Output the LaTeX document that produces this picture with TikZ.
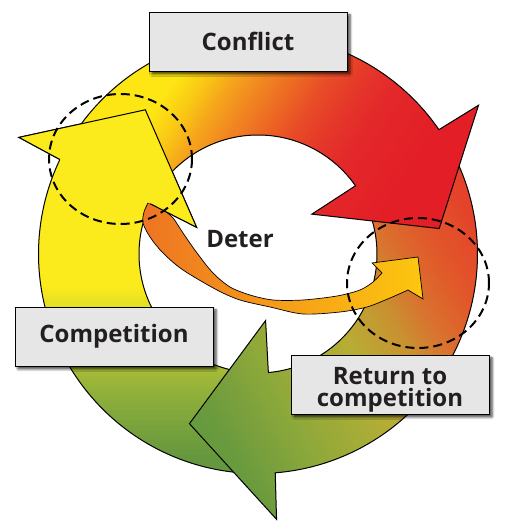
\documentclass[tikz,border=0pt]{standalone}
\usepackage{fontspec}
\setsansfont{Open Sans}
\usetikzlibrary{shadows.blur}

\definecolor{boxgray}{HTML}{E6E6E6}
\definecolor{textdark}{HTML}{231F20}
\definecolor{cycyellow}{HTML}{FBEA1C}
\definecolor{yellowA}{HTML}{65973F}
\definecolor{yellowB}{HTML}{8CAE3B}
\definecolor{yellowC}{HTML}{A8BC36}
\definecolor{yellowD}{HTML}{ECE421}
\definecolor{redA}{HTML}{FDE614}
\definecolor{redB}{HTML}{F9C315}
\definecolor{redC}{HTML}{F5A41C}
\definecolor{redD}{HTML}{F18621}
\definecolor{redE}{HTML}{EC6624}
\definecolor{redF}{HTML}{E84B27}
\definecolor{redG}{HTML}{E5362A}
\definecolor{redH}{HTML}{E3282A}
\definecolor{redI}{HTML}{E31E26}
\definecolor{greenA}{HTML}{E4432A}
\definecolor{greenB}{HTML}{E15A2A}
\definecolor{greenC}{HTML}{D8752F}
\definecolor{greenD}{HTML}{C99231}
\definecolor{greenE}{HTML}{B6AE34}
\definecolor{greenF}{HTML}{8FA93A}
\definecolor{greenG}{HTML}{699A3E}
\definecolor{greenH}{HTML}{5F9540}
\definecolor{deterA}{HTML}{EE7423}
\definecolor{deterB}{HTML}{F9B316}
\definecolor{deterC}{HTML}{FDC70F}

\newcommand\cyclehead[1]{(#1:219.5) -- (#1-0.5:266) -- (#1-26.5:183) -- (#1+2:67) -- (#1+0.5:119)}
\newcommand\cyclearrow[1]{(#1+115:219.5) arc[start angle=#1+115, end angle=#1, radius=219.5] -- \cyclehead{#1} arc[start angle=#1+0.5, end angle=#1+115, radius=119] -- cycle}
\newcommand\gradband[4]{%
  \pgfmathsetmacro\gbstep{(#2-(#1))/12}%
  \foreach \k in {0,...,12}{%
    \pgfmathtruncatemacro\gbp{100-100*\k/12}%
    \pgfmathsetmacro\gbu{#1+\k*\gbstep}%
    \colorlet{gbcol}{#3!\gbp!#4}%
    \fill[gbcol] (\gbu,-1000) rectangle ++(\gbstep+1,2000);
  }}

\tikzset{
  ringline/.style={draw=black, line width=1pt},
  labelfont/.style={font=\sffamily\bfseries\fontsize{24}{22}\selectfont, text=textdark},
  labelbox/.style={labelfont, draw=black, line width=0.8pt, fill=boxgray, minimum width=198pt, minimum height=59pt,
    inner sep=0pt, align=center,
    blur shadow={shadow xshift=3pt, shadow yshift=-3pt, shadow blur radius=2.5pt, shadow opacity=75}},
  focusring/.style={draw=black, line width=2pt, dash pattern=on 9pt off 5pt},
  deterarrow/.style={draw=black, line width=0.7pt, left color=deterA, middle color=deterB, right color=deterC}
}

\begin{document}
\begin{tikzpicture}[x=1pt,y=1pt]
\useasboundingbox (0,0) rectangle (512,530);

\begin{scope}[shift={(258,276)}]
  \begin{scope}
    \clip \cyclearrow{154.5};
    \begin{scope}[shift={(-258,-276)},rotate=90]
      \foreach \ua/\ub/\ca/\cb in {-100/70/yellowA/yellowA, 70/130/yellowA/yellowB, 130/162/yellowB/yellowC,
          162/230/yellowC/yellowD, 230/243/yellowD/cycyellow, 243/600/cycyellow/cycyellow}
        {\gradband{\ua}{\ub}{\ca}{\cb}}
    \end{scope}
  \end{scope}
  \path[ringline] \cyclearrow{154.5};

  \begin{scope}
    \clip \cyclearrow{-85.5};
    \begin{scope}[shift={(-258,-276)},rotate=210]
      \foreach \ua/\ub/\ca/\cb in {-700/-567/greenA/greenA, -567/-515/greenA/greenB, -515/-475/greenB/greenC,
          -475/-445/greenC/greenD, -445/-395/greenD/greenE, -395/-315/greenE/greenF,
          -315/-240/greenF/greenG, -240/-180/greenG/greenH, -180/0/greenH/greenH}
        {\gradband{\ua}{\ub}{\ca}{\cb}}
    \end{scope}
  \end{scope}
  \path[ringline] \cyclearrow{-85.5};

  \begin{scope}
    \clip \cyclearrow{34.5};
    \begin{scope}[shift={(-258,-276)},rotate=-33]
      \foreach \ua/\ub/\ca/\cb in {-300/-100/redA/redA, -100/-70/redA/redB, -70/-50/redB/redC,
          -50/-25/redC/redD, -25/5/redD/redE, 5/30/redE/redF, 30/60/redF/redG,
          60/90/redG/redH, 90/150/redH/redI, 150/400/redI/redI}
        {\gradband{\ua}{\ub}{\ca}{\cb}}
    \end{scope}
  \end{scope}
  \path[ringline] \cyclearrow{34.5};
\end{scope}

\draw[deterarrow] plot[smooth] coordinates {(148,327) (163,320) (173,312) (183,297) (197,277) (213,257)
    (230,243) (250,235) (273,230) (303,230) (337,234) (360,240) (373,248) (382,257)}
  -- (372,267) -- (418,273) -- (423,231) -- (408,240)
  -- plot[smooth] coordinates {(408,240) (390,232) (367,223) (340,218) (303,216) (270,223) (240,230)
    (217,240) (183,260) (163,277) (150,293) (143,307) (144,318) (148,327)} -- cycle;

\begin{scope}[shift={(258,276)}]
  \fill[cycyellow] \cyclehead{154.5} -- cycle;
  \draw[ringline] \cyclehead{154.5};
\end{scope}

\draw[focusring] (120.5,371) ellipse [x radius=71.5, y radius=65];
\draw[focusring] (418,247) ellipse [x radius=71, y radius=65];

\node[labelfont] (deter) at (240,291) {Deter};
\node[labelbox] (conflict) at (248,488.5) {Conflict};
\node[labelbox] (competition) at (114,193.5) {Competition};
\node[labelbox] (return) at (390,145.5) {\rule{0pt}{28pt}Return to\\competition};
\end{tikzpicture}
\end{document}
